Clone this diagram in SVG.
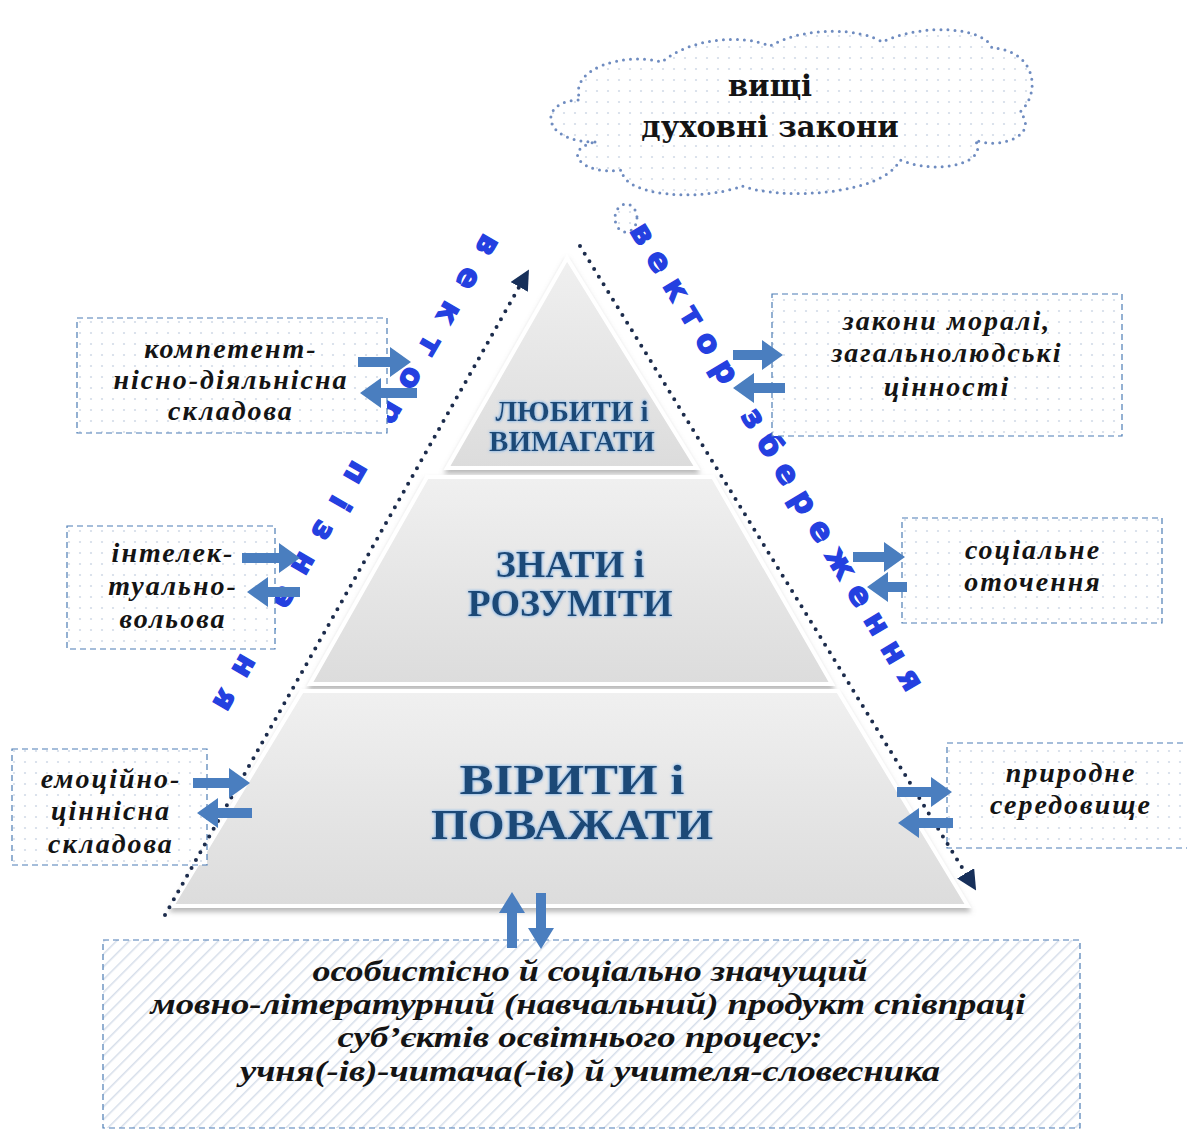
<svg xmlns="http://www.w3.org/2000/svg" width="1187" height="1131" viewBox="0 0 1187 1131">
<defs>
  <pattern id="dots" width="11" height="11" patternUnits="userSpaceOnUse">
    <rect width="11" height="11" fill="#ffffff"/>
    <circle cx="3" cy="3" r="1.1" fill="#d3dbe8"/>
  </pattern>
  <pattern id="hatch" width="9" height="9" patternUnits="userSpaceOnUse" patternTransform="rotate(45)">
    <rect width="9" height="9" fill="#ffffff"/>
    <line x1="0" y1="0" x2="0" y2="9" stroke="#d6deea" stroke-width="3"/>
  </pattern>
  <linearGradient id="lvl" x1="0" y1="0" x2="0" y2="1">
    <stop offset="0" stop-color="#f0f0f0"/>
    <stop offset="1" stop-color="#dcdcdc"/>
  </linearGradient>
  <filter id="shadow" x="-10%" y="-10%" width="120%" height="130%">
    <feGaussianBlur in="SourceAlpha" stdDeviation="2.5"/>
    <feOffset dx="0" dy="4" result="o"/>
    <feFlood flood-color="#8a8a8a" flood-opacity="0.6"/>
    <feComposite in2="o" operator="in"/>
    <feMerge><feMergeNode/><feMergeNode in="SourceGraphic"/></feMerge>
  </filter>
  <filter id="glow" x="-10%" y="-30%" width="120%" height="160%">
    <feGaussianBlur in="SourceAlpha" stdDeviation="1.6" result="b"/>
    <feFlood flood-color="#8fbbe8"/>
    <feComposite in2="b" operator="in"/>
    <feMerge><feMergeNode/><feMergeNode/><feMergeNode in="SourceGraphic"/></feMerge>
  </filter>
  <marker id="tri" viewBox="0 0 10 10" refX="8" refY="5" markerWidth="5" markerHeight="5" orient="auto" markerUnits="strokeWidth">
    <path d="M0,0 L10,5 L0,10 Z" fill="#17305a"/>
  </marker>
  <style>
    .box { fill: url(#dots); stroke: #4d7db5; stroke-width: 1.2; stroke-dasharray: 6 4; }
    .lvl { fill: url(#lvl); stroke: #ffffff; stroke-width: 4; filter: url(#shadow); }
    .lvltxt { font-family: "Liberation Serif", "DejaVu Serif", serif; font-weight: bold; fill: #1b4877; text-anchor: middle; filter: url(#glow); }
    .btxt { font-family: "Liberation Serif", "DejaVu Serif", serif; font-weight: bold; font-style: italic; font-size: 28px; letter-spacing: 2px; fill: #141414; text-anchor: middle; }
    .ctxt { font-family: "DejaVu Serif", "Liberation Serif", serif; font-weight: bold; font-size: 29px; fill: #141414; text-anchor: middle; }
    .bottxt { font-family: "Liberation Serif", "DejaVu Serif", serif; font-weight: bold; font-style: italic; font-size: 30px; fill: #141414; text-anchor: middle; }
    .vec { font-family: "DejaVu Sans", "Liberation Sans", sans-serif; font-weight: bold; font-size: 31px; fill: #2440e0; stroke: #2440e0; stroke-width: 1.4; text-anchor: middle; }
    .dotline { fill: none; stroke: #1c2c4c; stroke-width: 4; stroke-dasharray: 0 9; stroke-linecap: round; }
    .cloud { fill: url(#dots); stroke: #6f8cc0; stroke-width: 3; stroke-dasharray: 0 7; stroke-linecap: round; }
    .arr { fill: #4a7ebf; }
  </style>
</defs>

<rect width="1187" height="1131" fill="#ffffff"/>

<!-- cloud -->
<g id="cloud">
  <path class="cloud" d="M 595,142 C 540,142 538,100 580,100 C 568,68 625,52 662,62 C 690,38 742,34 770,46 C 805,26 860,28 882,42 C 925,22 985,28 992,48 C 1035,50 1042,92 1020,112 C 1040,135 1000,150 975,140 C 990,162 940,176 900,160 C 882,196 780,200 742,186 C 700,202 622,196 622,170 C 582,176 560,150 595,142 Z"/>
  <ellipse class="cloud" cx="626" cy="218" rx="11" ry="14"/>
  <text class="ctxt" x="770" y="96">вищі</text>
  <text class="ctxt" x="770" y="137">духовні закони</text>
</g>

<!-- pyramid levels -->
<g id="level-top">
  <polygon class="lvl" points="567,258 697,468 447,468"/>
  <text class="lvltxt" x="572" y="421" font-size="29">ЛЮБИТИ і</text>
  <text class="lvltxt" x="572" y="451" font-size="29">ВИМАГАТИ</text>
</g>
<g id="level-middle">
  <polygon class="lvl" points="427,477 713,477 832,684 310,684"/>
  <text class="lvltxt" x="570" y="577" font-size="38">ЗНАТИ і</text>
  <text class="lvltxt" x="570" y="616" font-size="38">РОЗУМІТИ</text>
</g>
<g id="level-bottom">
  <polygon class="lvl" points="302,691 838,691 968,906 172,906"/>
  <text class="lvltxt" x="572" y="794" font-size="42" textLength="225" lengthAdjust="spacingAndGlyphs">ВІРИТИ і</text>
  <text class="lvltxt" x="572" y="839" font-size="42" textLength="282" lengthAdjust="spacingAndGlyphs">ПОВАЖАТИ</text>
</g>

<!-- vector labels -->
<g id="vector-left">
  <text class="vec" transform="translate(348,468) rotate(120)" textLength="545" lengthAdjust="spacing">вектор пізнання</text>
</g>
<g id="vector-right">
  <text class="vec" transform="translate(768,462) rotate(59)" textLength="540" lengthAdjust="spacing">вектор збереження</text>
</g>

<!-- side boxes -->
<g id="box-competent">
  <rect class="box" x="77" y="318" width="310" height="115"/>
  <text class="btxt" x="231" y="358">компетент-</text>
  <text class="btxt" x="231" y="389">нісно-діяльнісна</text>
  <text class="btxt" x="231" y="420">складова</text>
</g>
<g id="box-intelect">
  <rect class="box" x="67" y="526" width="208" height="123"/>
  <text class="btxt" x="173" y="562">інтелек-</text>
  <text class="btxt" x="173" y="595">туально-</text>
  <text class="btxt" x="173" y="628">вольова</text>
</g>
<g id="box-emotion">
  <rect class="box" x="12" y="749" width="195" height="116"/>
  <text class="btxt" x="111" y="788">емоційно-</text>
  <text class="btxt" x="111" y="820">ціннісна</text>
  <text class="btxt" x="111" y="853">складова</text>
</g>
<g id="box-moral">
  <rect class="box" x="772" y="294" width="350" height="142"/>
  <text class="btxt" x="947" y="330">закони моралі,</text>
  <text class="btxt" x="947" y="362">загальнолюдські</text>
  <text class="btxt" x="947" y="396">цінності</text>
</g>
<g id="box-social">
  <rect class="box" x="902" y="518" width="260" height="105"/>
  <text class="btxt" x="1033" y="559">соціальне</text>
  <text class="btxt" x="1033" y="591">оточення</text>
</g>
<g id="box-nature">
  <rect class="box" x="947" y="743" width="250" height="105"/>
  <text class="btxt" x="1071" y="782">природне</text>
  <text class="btxt" x="1071" y="814">середовище</text>
</g>
<g id="box-product">
  <rect x="103" y="940" width="977" height="188" fill="url(#hatch)" stroke="#4d7db5" stroke-width="1.2" stroke-dasharray="6 4"/>
  <text class="bottxt" x="590" y="981" textLength="555" lengthAdjust="spacingAndGlyphs">особистісно й соціально значущий</text>
  <text class="bottxt" x="588" y="1014" textLength="875" lengthAdjust="spacingAndGlyphs">мовно-літературний (навчальний) продукт співпраці</text>
  <text class="bottxt" x="580" y="1047" textLength="485" lengthAdjust="spacingAndGlyphs">суб’єктів освітнього процесу:</text>
  <text class="bottxt" x="590" y="1081" textLength="700" lengthAdjust="spacingAndGlyphs">учня(-ів)-читача(-ів) й учителя-словесника</text>
</g>

<!-- connectors -->
<g id="connectors">
  <path class="dotline" d="M 165,915 L 527,273" marker-end="url(#tri)"/>
  <path class="dotline" d="M 580,246 L 974,887" marker-end="url(#tri)"/>

  <!-- box 1 -->
  <path class="arr" d="M358,357 L390,357 L390,347 L411,362 L390,377 L390,367 L358,367 Z"/>
  <path class="arr" d="M417,388 L381,388 L381,378 L360,393 L381,408 L381,398 L417,398 Z"/>
  <!-- box 2 -->
  <path class="arr" d="M242,553 L279,553 L279,543 L300,558 L279,573 L279,563 L242,563 Z"/>
  <path class="arr" d="M300,587 L268,587 L268,577 L247,592 L268,607 L268,597 L300,597 Z"/>
  <!-- box 3 -->
  <path class="arr" d="M193,778 L229,778 L229,768 L250,783 L229,798 L229,788 L193,788 Z"/>
  <path class="arr" d="M252,808 L218,808 L218,798 L197,813 L218,828 L218,818 L252,818 Z"/>
  <!-- box 4 -->
  <path class="arr" d="M733,350 L762,350 L762,340 L783,355 L762,370 L762,360 L733,360 Z"/>
  <path class="arr" d="M785,383 L754,383 L754,373 L733,388 L754,403 L754,393 L785,393 Z"/>
  <!-- box 5 -->
  <path class="arr" d="M853,552 L884,552 L884,542 L905,557 L884,572 L884,562 L853,562 Z"/>
  <path class="arr" d="M907,582 L888,582 L888,572 L867,587 L888,602 L888,592 L907,592 Z"/>
  <!-- box 6 -->
  <path class="arr" d="M897,787 L931,787 L931,777 L952,792 L931,807 L931,797 L897,797 Z"/>
  <path class="arr" d="M953,818 L919,818 L919,808 L898,823 L919,838 L919,828 L953,828 Z"/>
  <!-- bottom -->
  <path class="arr" d="M507,948 L507,913 L499,913 L512,892 L525,913 L517,913 L517,948 Z"/>
  <path class="arr" d="M536,893 L536,928 L528,928 L541,949 L554,928 L546,928 L546,893 Z"/>
</g>
</svg>
